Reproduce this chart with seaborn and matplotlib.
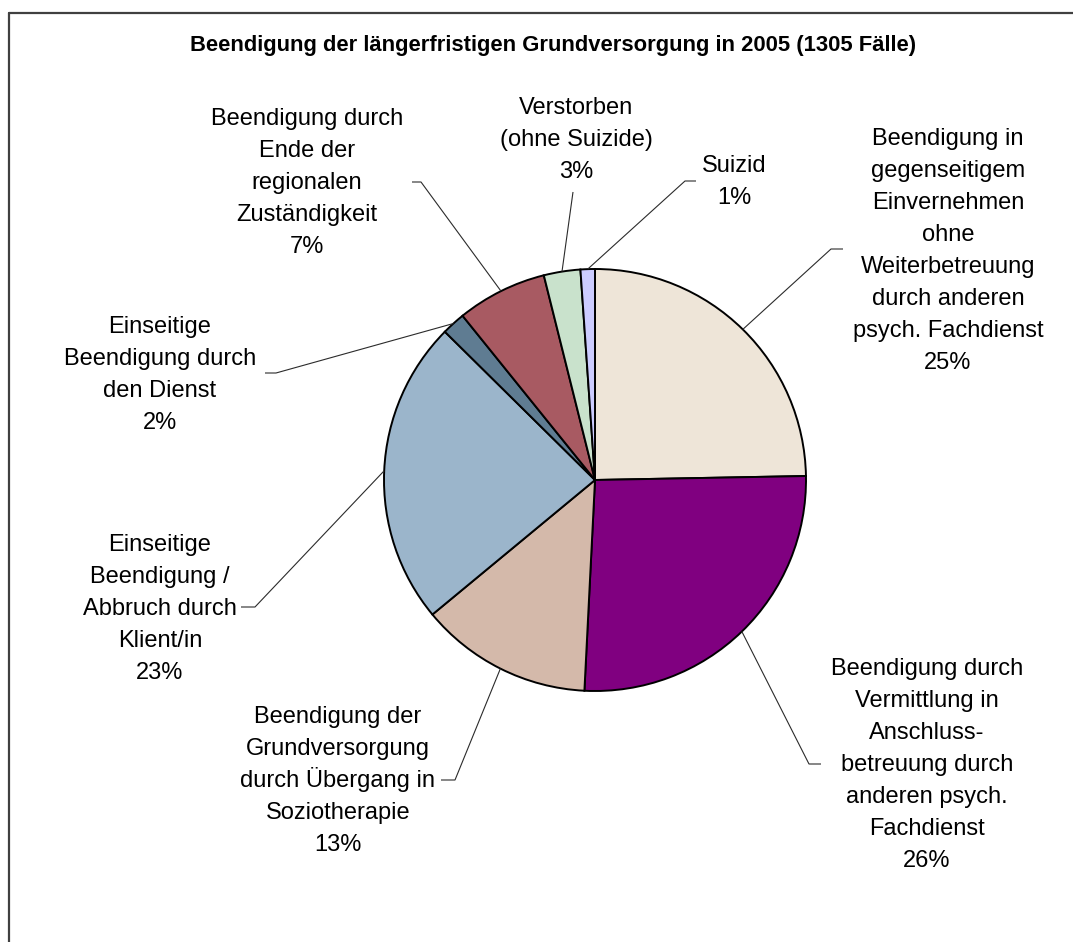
import matplotlib
matplotlib.use("Agg")
import matplotlib.pyplot as plt
from matplotlib.lines import Line2D
import numpy as np
import seaborn as sns

# ---------------- data ----------------
title = "Beendigung der längerfristigen Grundversorgung in 2005 (1305 Fälle)"
categories = [
    "Beendigung in\ngegenseitigem\nEinvernehmen\nohne\nWeiterbetreuung\ndurch anderen\npsych. Fachdienst",
    "Beendigung durch\nVermittlung in\nAnschluss-\nbetreuung durch\nanderen psych.\nFachdienst",
    "Beendigung der\nGrundversorgung\ndurch Übergang in\nSoziotherapie",
    "Einseitige\nBeendigung /\nAbbruch durch\nKlient/in",
    "Einseitige\nBeendigung durch\nden Dienst",
    "Beendigung durch\nEnde der\nregionalen\nZuständigkeit",
    "Verstorben\n(ohne Suizide)",
    "Suizid",
]
shares = [24.7, 26.1, 13.2, 23.4, 1.8, 6.9, 2.8, 1.1]
slice_colors = ["#EEE5D8", "#800080", "#D4B9AA", "#9BB5CB",
                "#5F7C92", "#A85A62", "#C9E2CC", "#CCCCFF"]

# ---------------- layout (pixels, y downward) ----------------
W, H = 1073, 942
CX, CY, R = 595, 480, 211
label_centers = [(948, 248.5), (927, 762.5), (338, 778.5), (160, 606.5),
                 (160, 372.5), (307, 181), (576, 137.5), (734, 180)]
elbows = [(831, 249), (809, 764), (455, 780), (255, 607),
          (276, 373), (421, 182), (573, 192), (685, 181)]
stub_ends = [(843, 249), (821, 764), (441, 780), (241, 607),
             (265, 373), (412, 182), (573, 192), (696, 181)]
LINE_PX = 32.0
FS = 17

sns.set_theme(style="white")
plt.rcParams["font.family"] = ["Liberation Sans", "DejaVu Sans"]

fig = plt.figure(figsize=(W / 100, H / 100), dpi=100)
ax = fig.add_axes([0, 0, 1, 1])

palette = sns.color_palette(slice_colors)
wedges, _ = ax.pie(shares, colors=palette, startangle=90, counterclock=False,
                   center=(CX, H - CY), radius=R,
                   wedgeprops=dict(edgecolor="black", linewidth=1.4))

ax.set_xlim(0, W)
ax.set_ylim(0, H)
ax.set_aspect("auto")
ax.axis("off")

lead_col = "#2b2b2b"
for w, cat, v, (lx, ly), (ex, ey), (sx, sy) in zip(
        wedges, categories, shares, label_centers, elbows, stub_ends):
    lines = cat.split("\n") + [f"{round(v)}%"]
    n = len(lines)
    for i, line in enumerate(lines):
        yc = ly + (i - (n - 1) / 2) * LINE_PX
        ax.text(lx, H - (yc + 8.3), line, ha="center", va="baseline",
                fontsize=FS, color="black")
    mid = np.deg2rad((w.theta1 + w.theta2) / 2)
    px = CX + R * np.cos(mid)
    py = (H - CY) + R * np.sin(mid)
    ax.plot([px, ex, sx], [py, H - ey, H - sy], color=lead_col,
            linewidth=0.8, solid_capstyle="butt")

fig.text(553.5 / W, 1 - 50.5 / H, title, ha="center", va="baseline",
         fontsize=15.8, fontweight="bold", color="black")

# outer chart frame (only top and left edges visible in the crop)
frame_col = "#404040"
fig.add_artist(Line2D([9 / W, 1.01], [1 - 13 / H, 1 - 13 / H],
                      transform=fig.transFigure, color=frame_col, linewidth=1.6))
fig.add_artist(Line2D([9 / W, 9 / W], [1 - 13 / H, -0.01],
                      transform=fig.transFigure, color=frame_col, linewidth=1.6))

fig.savefig("out.png", dpi=100, facecolor="white")
